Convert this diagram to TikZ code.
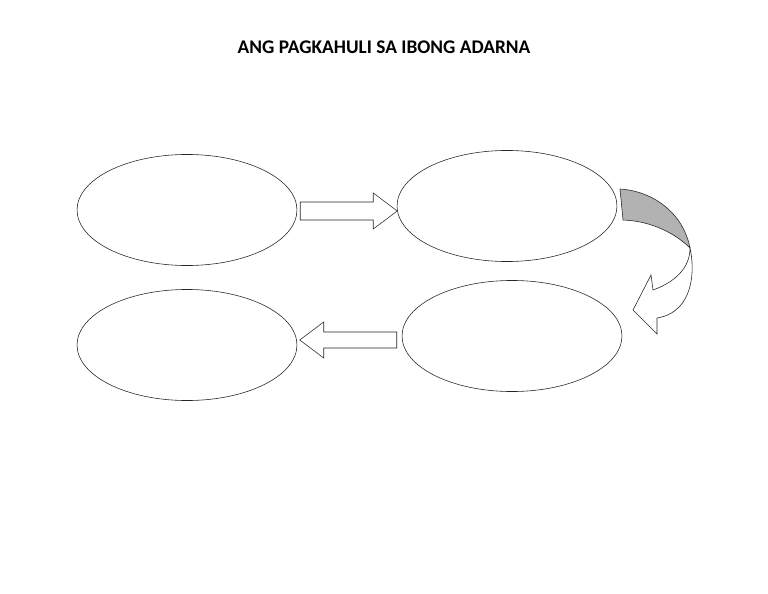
\documentclass[tikz,border=0pt]{standalone}
\usepackage{fontspec}
\setsansfont{Carlito}
\usetikzlibrary{shapes.geometric}

\tikzset{
  bubble/.style={draw=black!85, line width=0.6pt, ellipse, inner sep=0pt,
    minimum width=8.0cm, minimum height=4.04cm},
  blockarrow/.style={draw=black!85, line width=0.6pt, fill=white, line join=miter},
  backside/.style={draw=black!85, line width=0.6pt, fill=black!30}
}

\begin{document}
\begin{tikzpicture}[x=0.03638cm, y=-0.03638cm]
  \useasboundingbox (0,0) rectangle (768,594);

  \node[font=\sffamily\bfseries\fontsize{20}{24}\selectfont] (title) at (384,47) {ANG PAGKAHULI SA IBONG ADARNA};

  % the four bubbles
  \node[bubble] (e1) at (187,210) {};
  \node[bubble] (e2) at (507,206) {};
  \node[bubble] (e3) at (512,336) {};
  \node[bubble] (e4) at (187,345) {};

  % e1 -> e2
  \path (e1.east) ++(3,0) coordinate (ra);
  \draw[blockarrow] (ra) ++(0,-8) -- ++(73,0) -- ++(0,-9) -- ++(24,18)
    -- ++(-24,18) -- ++(0,-9) -- ++(-73,0) -- cycle;

  % e3 -> e4
  \path (e3.west) ++(-5,4) coordinate (la);
  \draw[blockarrow] (la) ++(0,-8) -- ++(-73,0) -- ++(0,-10) -- ++(-24,18)
    -- ++(24,18) -- ++(0,-10) -- ++(73,0) -- cycle;

  % e2 -> e3, curved
  \coordinate (ca) at (620,189);
  \coordinate (cb) at (623,220);
  \coordinate (cc) at (690,248);
  \draw[backside] (ca) .. controls (652,191) and (683,212) .. (cc)
    .. controls (676,234) and (652,221) .. (cb) -- cycle;
  \draw[blockarrow] (cc) .. controls (695,270) and (694,312) .. (657,318)
    -- (657,334) -- (633,310) -- (651,275) -- (653,290)
    .. controls (675,282) and (690,268) .. (cc) -- cycle;
\end{tikzpicture}
\end{document}
